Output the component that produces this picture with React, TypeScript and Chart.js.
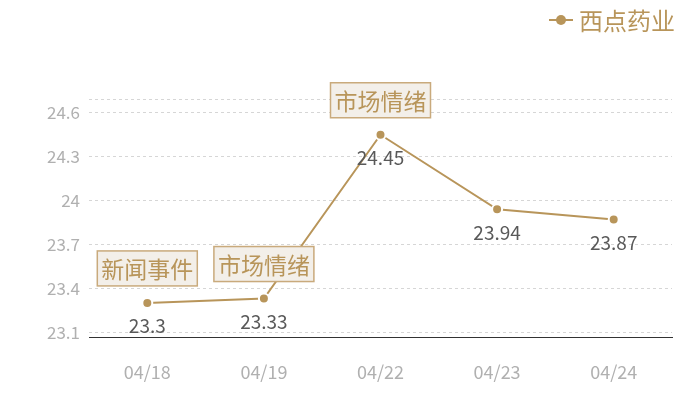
import React, { useEffect, useRef } from 'react';
import { Chart, registerables } from 'chart.js';

Chart.register(...registerables);

const dates = ['04/18', '04/19', '04/22', '04/23', '04/24'];
const prices = [23.3, 23.33, 24.45, 23.94, 23.87];
const yTicks = [23.1, 23.4, 23.7, 24, 24.3, 24.6];
const eventIdx = [0, 1, 2];
const eventText = ['新闻事件', '市场情绪', '市场情绪'];
const seriesName = '西点药业';

const GOLD = '#b8955a';
const FONT = '"Noto Sans CJK SC", "Noto Sans", sans-serif';

const yMin = Math.min(...prices) * 0.99;
const yMax = Math.max(...prices) * 1.01;

const overlay = {
  id: 'overlay',
  afterDatasetsDraw(chart: any) {
    const ctx = chart.ctx;
    const meta = chart.getDatasetMeta(0);
    ctx.save();

    // value labels under each point
    ctx.font = `19px ${FONT}`;
    ctx.fillStyle = '#595959';
    ctx.textAlign = 'center';
    ctx.textBaseline = 'middle';
    meta.data.forEach((pt: any, i: number) => {
      ctx.fillText(String(prices[i]), pt.x, pt.y + 23);
    });

    // event boxes above points
    ctx.font = `23px ${FONT}`;
    eventIdx.forEach((idx, k) => {
      const pt = meta.data[idx];
      const w = ctx.measureText(eventText[k]).width + 8;
      const h = 35;
      const x = pt.x - w / 2;
      const y = pt.y - 17 - h;
      ctx.fillStyle = '#f3efe9';
      ctx.fillRect(x, y, w, h);
      ctx.strokeStyle = '#c9aa7c';
      ctx.lineWidth = 1.5;
      ctx.strokeRect(x, y, w, h);
      ctx.fillStyle = '#b8955a';
      ctx.fillText(eventText[k], pt.x, y + h / 2 + 1);
    });

    // legend, top right
    ctx.strokeStyle = GOLD;
    ctx.lineWidth = 2;
    ctx.beginPath();
    ctx.moveTo(549, 20);
    ctx.lineTo(573, 20);
    ctx.stroke();
    ctx.fillStyle = GOLD;
    ctx.beginPath();
    ctx.arc(561, 20, 5, 0, Math.PI * 2);
    ctx.fill();
    ctx.font = `24px ${FONT}`;
    ctx.textAlign = 'left';
    ctx.fillText(seriesName, 579, 21);
    ctx.restore();
  },
};

const App: React.FC = () => {
  const canvasRef = useRef<HTMLCanvasElement>(null);

  useEffect(() => {
    document.body.style.margin = '0';
    if (!canvasRef.current) return;
    const chart = new Chart(canvasRef.current, {
      type: 'line',
      data: {
        labels: dates,
        datasets: [
          {
            label: seriesName,
            data: prices,
            borderColor: GOLD,
            borderWidth: 2,
            pointBackgroundColor: GOLD,
            pointBorderColor: '#fff',
            pointBorderWidth: 2,
            pointRadius: 5,
            tension: 0,
          },
        ],
      },
      options: {
        animation: false,
        responsive: false,
        maintainAspectRatio: false,
        layout: { padding: { top: 99, right: 28, left: 0, bottom: 0 } },
        plugins: { legend: { display: false }, tooltip: { enabled: false } },
        scales: {
          x: {
            offset: true,
            grid: { display: false, drawTicks: false },
            border: { display: true, color: '#333', width: 1 },
            ticks: { color: '#b0b0b0', font: { family: FONT, size: 18 }, padding: 24 },
            afterFit: (s: any) => { s.height = 63; },
          },
          y: {
            min: yMin,
            max: yMax,
            afterBuildTicks: (s: any) => {
              s.ticks = [...yTicks, yMax].map((value) => ({ value }));
            },
            grid: { color: '#d6d6d6', drawTicks: false, lineWidth: 1 },
            border: { display: false, dash: [3, 3] },
            ticks: {
              color: '#b0b0b0',
              font: { family: FONT, size: 17 },
              padding: 9,
              callback: (v: any) => (yTicks.includes(v) ? String(v) : ''),
            },
            afterFit: (s: any) => { s.width = 89; },
          },
        },
      },
      plugins: [overlay],
    });
    return () => chart.destroy();
  }, []);

  return (
    <div style={{ width: 700, height: 400, background: '#fff' }}>
      <canvas ref={canvasRef} width={700} height={400} style={{ width: 700, height: 400 }} />
    </div>
  );
};

export default App;
